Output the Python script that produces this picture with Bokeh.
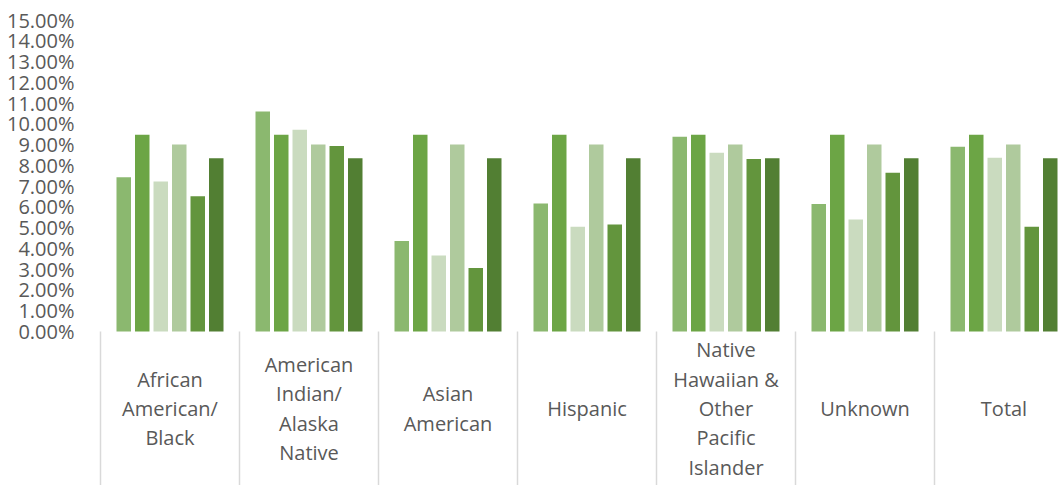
from bokeh.plotting import figure
from bokeh.models import (Range1d, FixedTicker, PrintfTickFormatter, LinearAxis,
                          ColumnDataSource, Div)
from bokeh.core.properties import value
from bokeh.layouts import column
from bokeh.embed import file_html
from bokeh.resources import INLINE

# ---- data (percent values) ----
categories = ["African\nAmerican/\nBlack",
              "American\nIndian/\nAlaska\nNative",
              "Asian\nAmerican",
              "Hispanic",
              "Native\nHawaiian &\nOther\nPacific\nIslander",
              "Unknown",
              "Total"]
series_names = ["Series 1", "Series 2", "Series 3", "Series 4", "Series 5", "Series 6"]
series_1 = [7.43, 10.59, 4.36, 6.16, 9.38, 6.14, 8.90]
series_2 = [9.48, 9.48, 9.48, 9.48, 9.48, 9.48, 9.48]
series_3 = [7.22, 9.72, 3.66, 5.05, 8.61, 5.39, 8.37]
series_4 = [9.01, 9.01, 9.01, 9.01, 9.01, 9.01, 9.01]
series_5 = [6.51, 8.93, 3.06, 5.15, 8.31, 7.64, 5.05]
series_6 = [8.34, 8.34, 8.34, 8.34, 8.34, 8.34, 8.34]
y_ticks = [0, 1, 2, 3, 4, 5, 6, 7, 8, 9, 10, 11, 12, 13, 14, 15]

# ---- styling ----
colors = ["#8BB86F", "#6CA545", "#CADBBF", "#AFCA9D", "#63953D", "#527F33"]
GRID = "#D9D9D9"
TEXT = "#595959"
FONT = "Open Sans"

n_cat = len(categories)
cat_px = 139.0                 # pixel width of one category
left_px = 98                   # frame starts 2px left of the first separator
x_start = -2.0 / cat_px
x_end = (1060 - 100) / cat_px  # last category is cut by the right edge, as in the original

fig_h = 485
top_px, zero_px = 18, 331
px_per_unit = (zero_px - 19.5) / 15.0
y_start = -(fig_h - zero_px) / px_per_unit
y_end = (zero_px - top_px) / px_per_unit

p = figure(width=1060, height=fig_h, output_backend="svg", toolbar_location=None,
           x_range=Range1d(x_start, x_end), y_range=Range1d(y_start, y_end),
           min_border_left=left_px, min_border_right=0, min_border_top=top_px,
           min_border_bottom=0, x_axis_type=None, y_axis_type=None)
p.outline_line_color = None
p.background_fill_color = "white"
p.border_fill_color = "white"

yax = LinearAxis(ticker=FixedTicker(ticks=y_ticks),
                 formatter=PrintfTickFormatter(format="%.2f%%"))
yax.axis_line_color = None
yax.major_tick_line_color = None
yax.minor_tick_line_color = None
yax.major_label_standoff = 18
yax.major_label_text_font = FONT
yax.major_label_text_font_size = "20px"
yax.major_label_text_color = TEXT
p.add_layout(yax, "left")

p.ygrid.ticker = FixedTicker(ticks=y_ticks)   # the 0 line doubles as the category axis line
p.ygrid.grid_line_color = GRID
p.ygrid.grid_line_width = 1.5
p.xgrid.grid_line_color = None

centers = [i + 0.5 for i in range(n_cat)]
bounds = [float(i) for i in range(n_cat + 1)]
all_series = [series_1, series_2, series_3, series_4, series_5, series_6]
pitch = 18.5 / cat_px
bar_w = 14.5 / cat_px
for k, (name, vals) in enumerate(zip(series_names, all_series)):
    xs = [c + (k - 2.5) * pitch for c in centers]
    src = ColumnDataSource(dict(x=xs, top=vals))
    p.vbar(x="x", top="top", bottom=0, width=bar_w, source=src,
           fill_color=colors[k], line_color=None, name=name)

# category boxes under the axis: separators and centred labels
p.segment(x0=bounds, y0=[0] * len(bounds), x1=bounds, y1=[y_start] * len(bounds),
          line_color=GRID, line_width=1.5)
label_y = (zero_px - 408) / px_per_unit
p.text(x=centers, y=[label_y] * n_cat, text=categories,
       text_font=value(FONT), text_font_size="20px", text_color=TEXT,
       text_align="center", text_baseline="middle", text_line_height=1.09)

bottom_line = Div(width=1060, height=2, styles={"background-color": GRID})

layout = column(p, bottom_line, spacing=0)
open("out.html", "w").write(file_html(layout, INLINE))
